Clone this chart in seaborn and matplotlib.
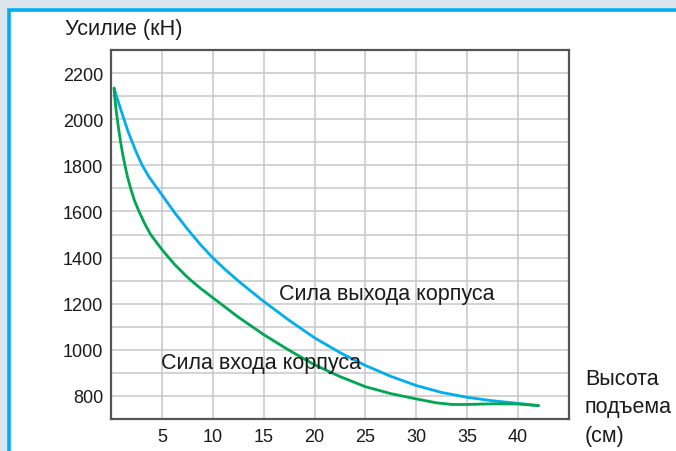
import matplotlib
matplotlib.use("Agg")
import matplotlib.pyplot as plt
import seaborn as sns
import pandas as pd
from matplotlib.patches import Rectangle

# Data
x_out = [0.3, 0.5, 0.85, 1.27, 1.65, 2.09, 2.55, 3.07, 3.7, 4.38, 5.0, 6.25, 7.5, 8.75, 10,
         11.25, 12.5, 13.75, 15, 17.5, 20, 22.5, 25, 27.5, 30, 32.5, 35, 37.5, 40, 42]
y_out = [2135, 2105, 2057, 2000, 1950, 1900, 1850, 1800, 1752, 1710, 1672, 1595, 1524, 1458, 1399,
         1347, 1299, 1254, 1210, 1128, 1052, 988, 932, 885, 845, 815, 794, 779, 768, 758]

x_in = [0.3, 0.36, 0.48, 0.62, 0.78, 0.95, 1.15, 1.37, 1.63, 1.93, 2.3, 2.75, 3.3, 3.89, 5.0,
        6.25, 7.5, 8.75, 10, 12.5, 15, 17.5, 20, 22.5, 25, 27.5, 30, 32, 33.5, 35, 37.5, 40, 42]
y_in = [2135, 2100, 2048, 2000, 1948, 1900, 1848, 1800, 1748, 1700, 1648, 1600, 1548, 1500, 1435,
        1370, 1315, 1268, 1226, 1142, 1066, 998, 935, 884, 840, 810, 787, 770, 763, 763, 766, 765, 758]

x_ticks = [5, 10, 15, 20, 25, 30, 35, 40]
y_ticks = [800, 1000, 1200, 1400, 1600, 1800, 2000, 2200]

label_out = "Сила выхода корпуса"
label_in = "Сила входа корпуса"
y_title = "Усилие (кН)"
x_title = "Высота\nподъема\n(см)"

df = pd.concat([
    pd.DataFrame({"x": x_out, "y": y_out, "s": "out"}),
    pd.DataFrame({"x": x_in, "y": y_in, "s": "in"}),
])

sns.set_style("white")
plt.rcParams["font.family"] = ["Liberation Sans", "DejaVu Sans"]

fig = plt.figure(figsize=(6.76, 4.52), dpi=100)
fig.patch.set_facecolor("#dce5ee")
# white panel with cyan border
fig.patches.append(Rectangle((8.5 / 676, -0.1), 1.2, 1 - 10.5 / 452 + 0.1,
                             transform=fig.transFigure, facecolor="white",
                             edgecolor="#00aeef", linewidth=2.6, zorder=-5))

ax = fig.add_axes([111 / 676, 1 - 420 / 452, (569 - 111) / 676, (420 - 51) / 452])
ax.set_facecolor("white")

sns.lineplot(data=df, x="x", y="y", hue="s", palette={"out": "#00aeef", "in": "#00a651"},
             linewidth=2.0, legend=False, ax=ax, sort=False, estimator=None, zorder=3)

ax.set_xlim(0, 45)
ax.set_ylim(700, 2300)
ax.set_xticks(x_ticks)
ax.set_yticks(y_ticks)
ax.set_yticks(range(700, 2301, 100), minor=True)
ax.set_xticklabels([str(v) for v in x_ticks])
ax.set_yticklabels([str(v) for v in y_ticks])
ax.grid(True, which="major", color="#c8c8c8", linewidth=1.1, zorder=0)
ax.grid(True, which="minor", axis="y", color="#c8c8c8", linewidth=1.1, zorder=0)
ax.set_axisbelow(True)
ax.tick_params(axis="both", which="both", length=0, labelsize=13, colors="#1a1a1a")
ax.tick_params(axis="y", pad=5.5)
ax.tick_params(axis="x", pad=6.5)
for s in ax.spines.values():
    s.set_visible(True)
    s.set_color("#555555")
    s.set_linewidth(1.6)
ax.set_xlabel("")
ax.set_ylabel("")

ax.text(16.5, 1220, label_out, fontsize=15.5, color="#1a1a1a", va="baseline", ha="left", zorder=4)
ax.text(4.9, 920, label_in, fontsize=15.5, color="#1a1a1a", va="baseline", ha="left", zorder=4)

fig.text(65 / 676, 1 - 30 / 452, y_title, fontsize=15.6, color="#1a1a1a", va="center", ha="left")
fig.text(585 / 676, 1 - 408 / 452, x_title, fontsize=15.5, color="#1a1a1a", va="center", ha="left",
         linespacing=1.48)

fig.savefig("out.png", dpi=100, facecolor=fig.get_facecolor())
